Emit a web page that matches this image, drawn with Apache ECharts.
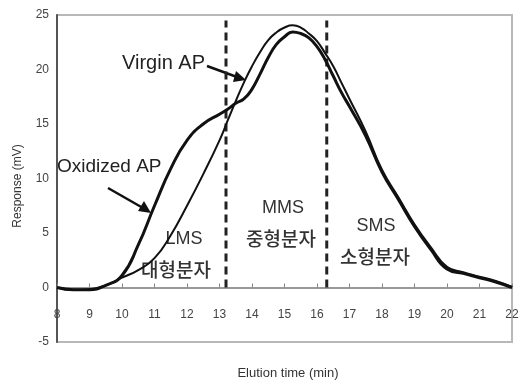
<!DOCTYPE html>
<html>
<head>
<meta charset="utf-8">
<script src="https://cdn.jsdelivr.net/npm/echarts@6/dist/echarts.min.js"></script>
<style>
  html, body { margin: 0; padding: 0; background: #fff; }
  #chart { width: 523px; height: 384px; }
</style>
</head>
<body>
<div id="chart"></div>
<script>
// Elution time sample points (min)
const elutionTime = [8, 8.5, 9, 9.5, 10, 10.5, 11, 11.5, 12, 12.5, 13, 13.25, 13.5, 13.75, 14, 14.25, 14.5, 14.75, 15, 15.25, 15.5, 15.75, 16, 16.25, 16.5, 16.75, 17, 17.5, 18, 18.5, 19, 19.5, 20, 20.5, 21, 21.5, 22];
// Detector response (mV)
const oxidizedAP = [0, -0.2, -0.2, 0.2, 1.1, 3.9, 7.5, 10.9, 13.5, 15.0, 15.9, 16.35, 16.9, 17.3, 18.2, 19.6, 21.1, 22.3, 23.0, 23.45, 23.3, 22.9, 22.1, 20.9, 19.4, 17.9, 16.6, 13.9, 10.6, 8.1, 5.6, 3.5, 1.7, 1.3, 0.9, 0.5, 0];
const virginAP = [0, -0.2, -0.15, 0.2, 0.9, 1.6, 2.7, 4.8, 7.5, 10.4, 13.5, 15.3, 17.1, 18.8, 20.3, 21.6, 22.7, 23.4, 23.85, 24.05, 23.85, 23.3, 22.6, 21.5, 20.3, 18.8, 17.3, 14.3, 10.8, 8.3, 5.8, 3.7, 1.9, 1.4, 1.0, 0.6, 0.05];
// Fraction boundaries (min) and the height of the divider lines
const fractionBounds = [13.2, 16.3];
const dividerRange = [0, 24.5];
// Axis ticks
const xTicks = [8, 9, 10, 11, 12, 13, 14, 15, 16, 17, 18, 19, 20, 21, 22];
const yTicks = [-5, 0, 5, 10, 15, 20, 25];

const pair = (xs, ys) => xs.map((x, i) => [x, ys[i]]);

const latin = '"Liberation Sans", Arial, sans-serif';
const hangul = '"Noto Sans CJK KR", "Liberation Sans", sans-serif';

const W = 523, H = 384;
const gridBox = { left: 57, right: 11, top: 15, bottom: 42 };
const yMin = yTicks[0], yMax = yTicks[yTicks.length - 1];
// Lift the tick-label axis up to the zero line of the response scale
const plotH = H - gridBox.top - gridBox.bottom;
const zeroLift = -plotH * (0 - yMin) / (yMax - yMin);

const chart = echarts.init(document.getElementById('chart'), null, { renderer: 'canvas' });

const dividerSeries = fractionBounds.map((b) => ({
  type: 'line',
  data: dividerRange.map((v) => [b, v]),
  showSymbol: false,
  silent: true,
  lineStyle: { color: '#222', width: 3, type: [8, 5] },
  z: 1
}));

chart.setOption({
  animation: false,
  backgroundColor: '#fff',
  grid: Object.assign({}, gridBox, {
    containLabel: false, outerBoundsMode: 'none',
    show: true, borderColor: '#b8b8b8', borderWidth: 2, backgroundColor: 'transparent'
  }),
  xAxis: {
    type: 'value',
    position: 'bottom',
    offset: zeroLift,
    min: xTicks[0], max: xTicks[xTicks.length - 1], interval: 1,
    axisLine: { onZero: false, lineStyle: { color: '#777', width: 1.5 } },
    axisTick: { show: true, inside: true, length: 4, lineStyle: { color: '#888' } },
    axisLabel: { fontFamily: latin, fontSize: 12, color: '#444', margin: 21 },
    splitLine: { show: false }
  },
  yAxis: {
    type: 'value',
    min: yMin, max: yMax, interval: 5,
    axisLine: { show: true, lineStyle: { color: '#555', width: 2 } },
    axisTick: { show: false },
    axisLabel: { fontFamily: latin, fontSize: 12, color: '#444', margin: 8 },
    splitLine: { show: false }
  },
  series: [
    {
      name: 'Oxidized AP', type: 'line', data: pair(elutionTime, oxidizedAP),
      smooth: true, showSymbol: false, lineStyle: { color: '#111', width: 3 }, z: 3
    },
    {
      name: 'Virgin AP', type: 'line', data: pair(elutionTime, virginAP),
      smooth: true, showSymbol: false, lineStyle: { color: '#111', width: 2 }, z: 3
    },
    ...dividerSeries
  ],
  graphic: [
    // Axis titles
    { type: 'text', x: 288, y: 373, style: { text: 'Elution time (min)', font: '13px ' + latin, fill: '#333', align: 'center', verticalAlign: 'middle' } },
    { type: 'text', x: 18, y: 186, rotation: Math.PI / 2, style: { text: 'Response (mV)', font: '12px ' + latin, fill: '#333', align: 'center', verticalAlign: 'middle' } },
    { type: 'text', left: 57, top: 157, style: { text: 'Oxidized AP', font: '19px ' + latin, fill: '#222' } },
    { type: 'text', left: 122, top: 53, style: { text: 'Virgin AP', font: '20px ' + latin, fill: '#222' } },
    // Arrows pointing at each curve
    { type: 'line', shape: { x1: 108, y1: 188, x2: 143, y2: 208 }, style: { stroke: '#111', lineWidth: 2.5 } },
    { type: 'polygon', shape: { points: [[151, 213], [138, 211], [144, 201]] }, style: { fill: '#111' } },
    { type: 'line', shape: { x1: 207, y1: 66, x2: 237, y2: 77 }, style: { stroke: '#111', lineWidth: 2.5 } },
    { type: 'polygon', shape: { points: [[246, 80], [233, 82], [236, 71]] }, style: { fill: '#111' } },
    // Fraction labels
    { type: 'text', x: 184, y: 239, style: { text: 'LMS', font: '18px ' + latin, fill: '#333', align: 'center', verticalAlign: 'middle' } },
    { type: 'text', x: 176, y: 270, style: { text: '대형분자', font: '500 19px ' + hangul, fill: '#333', align: 'center', verticalAlign: 'middle' } },
    { type: 'text', x: 283, y: 208, style: { text: 'MMS', font: '18px ' + latin, fill: '#333', align: 'center', verticalAlign: 'middle' } },
    { type: 'text', x: 281, y: 239, style: { text: '중형분자', font: '500 19px ' + hangul, fill: '#333', align: 'center', verticalAlign: 'middle' } },
    { type: 'text', x: 376, y: 226, style: { text: 'SMS', font: '18px ' + latin, fill: '#333', align: 'center', verticalAlign: 'middle' } },
    { type: 'text', x: 375, y: 257, style: { text: '소형분자', font: '500 19px ' + hangul, fill: '#333', align: 'center', verticalAlign: 'middle' } }
  ]
});
</script>
</body>
</html>
